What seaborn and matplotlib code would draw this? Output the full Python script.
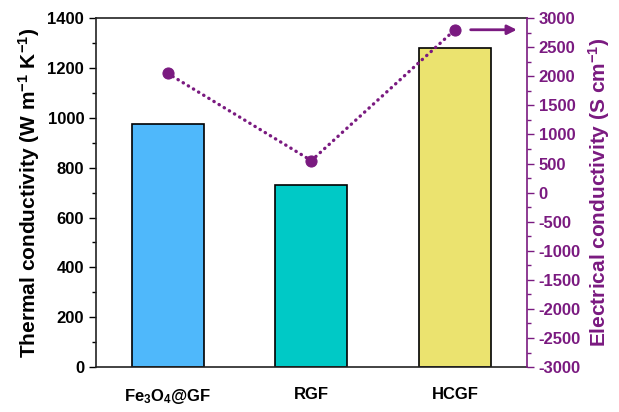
import numpy as np
import pandas as pd
import matplotlib
matplotlib.use("Agg")
import matplotlib.pyplot as plt
import seaborn as sns
from matplotlib.ticker import MultipleLocator

samples = ["Fe$_3$O$_4$@GF", "RGF", "HCGF"]
thermal = [975, 730, 1280]
electrical = [2050, 550, 2800]
bar_colors = ["#4fb8fb", "#00c9c6", "#ebe36f"]
purple = "#7a1a80"

sns.set_style("ticks")
plt.rcParams["font.family"] = ["Liberation Sans", "DejaVu Sans"]
plt.rcParams["font.weight"] = "bold"
plt.rcParams["axes.unicode_minus"] = False
plt.rcParams["mathtext.fontset"] = "custom"
plt.rcParams["mathtext.rm"] = "Liberation Sans:bold"
plt.rcParams["mathtext.it"] = "Liberation Sans:bold"
plt.rcParams["mathtext.bf"] = "Liberation Sans:bold"

df = pd.DataFrame({"sample": samples, "thermal": thermal, "electrical": electrical})

fig = plt.figure(figsize=(6.19, 4.12), dpi=100)
ax = fig.add_axes([0.155, 0.109, 0.696, 0.847])
sns.barplot(data=df, x="sample", y="thermal", hue="sample", palette=bar_colors,
            saturation=1, width=0.5, edgecolor="black", linewidth=1.2,
            legend=False, ax=ax)
ax.set_xlim(-0.5, 2.5)
ax.set_ylim(0, 1400)
ax.yaxis.set_major_locator(MultipleLocator(200))
ax.yaxis.set_minor_locator(MultipleLocator(100))
ax.set_xlabel("")
ax.set_ylabel("Thermal conductivity (W m$^{\\mathrm{-1}}$ K$^{\\mathrm{-1}}$)",
              fontsize=15, fontweight="bold", color="black")
ax.tick_params(axis="x", length=0, pad=14, labelsize=12, colors="black")
ax.tick_params(axis="y", which="major", length=5, labelsize=12, width=1, colors="black")
ax.tick_params(axis="y", which="minor", length=3, width=1, colors="black")
for lab in ax.get_xticklabels() + ax.get_yticklabels():
    lab.set_fontweight("bold")
for s in ["left", "bottom", "top"]:
    ax.spines[s].set_color("#222222")
    ax.spines[s].set_linewidth(1.2)
ax.spines["top"].set_visible(True)
ax.spines["right"].set_visible(False)

ax2 = ax.twinx()
sns.lineplot(x=np.arange(len(samples)), y=electrical, ax=ax2, color=purple,
             linestyle=(0, (0.1, 1.7)), linewidth=2.4, marker="o", markersize=8,
             markeredgecolor=purple, markerfacecolor=purple,
             dash_capstyle="round")
ax2.set_ylim(-3000, 3000)
ax2.yaxis.set_major_locator(MultipleLocator(500))
ax2.yaxis.set_minor_locator(MultipleLocator(250))
ax2.set_ylabel("Electrical conductivity (S cm$^{\\mathrm{-1}}$)", fontsize=15,
               fontweight="bold", color=purple, labelpad=4)
ax2.tick_params(axis="y", which="major", length=5, labelsize=12, colors=purple, width=1)
ax2.tick_params(axis="y", which="minor", length=3, colors=purple, width=1)
for lab in ax2.get_yticklabels():
    lab.set_fontweight("bold")
ax2.spines["right"].set_color(purple)
ax2.spines["right"].set_linewidth(1.2)
for s in ["left", "bottom", "top"]:
    ax2.spines[s].set_visible(False)

ax2.annotate("", xy=(2.45, electrical[2]), xytext=(2.09, electrical[2]),
             arrowprops=dict(arrowstyle="-|>", color=purple, lw=2, mutation_scale=14))

fig.savefig("out.png", dpi=100)
